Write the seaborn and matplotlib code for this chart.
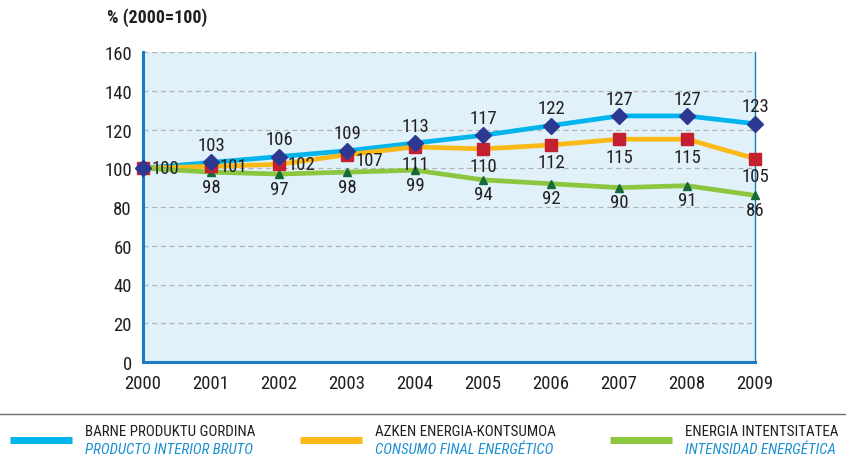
import matplotlib
matplotlib.use("Agg")
import matplotlib.pyplot as plt
from matplotlib.lines import Line2D
from matplotlib import font_manager
import seaborn as sns
import pandas as pd
import numpy as np

years = ["2000", "2001", "2002", "2003", "2004", "2005", "2006", "2007", "2008", "2009"]
pib = [100, 103, 106, 109, 113, 117, 122, 127, 127, 123]
consumo = [100, 101, 102, 107, 111, 110, 112, 115, 115, 105]
intensidad = [100, 98, 97, 98, 99, 94, 92, 90, 91, 86]
legend_eu = ["BARNE PRODUKTU GORDINA", "AZKEN ENERGIA-KONTSUMOA", "ENERGIA INTENTSITATEA"]
legend_es = ["PRODUCTO INTERIOR BRUTO", "CONSUMO FINAL ENERGÉTICO", "INTENSIDAD ENERGÉTICA"]
y_ticks = [0, 20, 40, 60, 80, 100, 120, 140, 160]

sns.set_theme(style="white")
names = {f.name for f in font_manager.fontManager.ttflist}
cond_fams = [n for n in ["Liberation Sans Narrow", "Roboto Condensed", "Open Sans Condensed",
                         "DejaVu Sans Condensed"] if n in names]
FONT = cond_fams + ["DejaVu Sans"]
plt.rcParams["font.family"] = FONT
if not cond_fams:
    plt.rcParams["font.stretch"] = "condensed"

line_cols = ["#00b5ec", "#fbb917", "#8cc63e"]
mark_cols = ["#2b3990", "#c4202f", "#17693a"]
markers = ["D", "s", "^"]
msizes = [8.5, 8, 5.5]
AXIS_BLUE = "#1b7cc3"
TXT = "#231f20"
FS = 13.5

fig = plt.figure(figsize=(8.46, 4.60), dpi=100)
W, H = 846, 460
ax = fig.add_axes([143 / W, 1 - 363 / H, (755 - 143) / W, (363 - 53) / H])
ax.set_facecolor("#e0f1f9")

df = pd.DataFrame({
    "x": list(range(len(years))) * 3,
    "v": pib + consumo + intensidad,
    "s": ["pib"] * 10 + ["con"] * 10 + ["int"] * 10,
})
series = ["pib", "con", "int"]
sns.lineplot(data=df, x="x", y="v", hue="s", hue_order=series,
             palette=line_cols, linewidth=3.4, legend=False, ax=ax, zorder=3)
zs = [6, 5, 4]
for i, s in enumerate(series):
    sub = df[df["s"] == s]
    ax.plot(sub["x"], sub["v"], linestyle="none", marker=markers[i],
            markersize=msizes[i], color=mark_cols[i], zorder=zs[i], clip_on=False)

ax.set_xlim(0, 9)
ax.set_ylim(0, 160)
ax.set_yticks(y_ticks)
ax.set_yticklabels([str(t) for t in y_ticks])
ax.set_xticks(range(10))
ax.set_xticklabels(years)
ax.set_xticks(np.arange(0.5, 9, 1), minor=True)
ax.tick_params(axis="x", which="major", length=0, pad=9, labelsize=FS, labelcolor=TXT)
ax.tick_params(axis="x", which="minor", length=11, width=1.6, color=AXIS_BLUE, direction="out")
ax.tick_params(axis="y", which="major", length=5, width=1.6, color=AXIS_BLUE,
               direction="out", pad=3, labelsize=FS, labelcolor=TXT)
ax.set_xlabel("")
ax.set_ylabel("")
for yv in y_ticks[1:]:
    ax.axhline(yv, color="#b3b3b3", linestyle=(0, (4, 3)), linewidth=0.9, zorder=1)

for side in ["left", "bottom"]:
    ax.spines[side].set_color(AXIS_BLUE)
    ax.spines[side].set_linewidth(2.2)
ax.spines["right"].set_color(AXIS_BLUE)
ax.spines["right"].set_linewidth(1.0)
ax.spines["top"].set_visible(False)

lab_kw = dict(fontsize=FS, color=TXT, zorder=7, clip_on=False)
for i in range(1, 10):
    ax.annotate(str(pib[i]), (i, pib[i]), xytext=(0, 6), textcoords="offset points",
                ha="center", va="bottom", **lab_kw)
for i in range(0, 4):
    dy = -4 if i == 3 else 0
    ax.annotate(str(consumo[i]), (i, consumo[i]), xytext=(6, dy), textcoords="offset points",
                ha="left", va="center", **lab_kw)
for i in range(4, 10):
    ax.annotate(str(consumo[i]), (i, consumo[i]), xytext=(0, -6), textcoords="offset points",
                ha="center", va="top", **lab_kw)
for i in range(1, 10):
    ax.annotate(str(intensidad[i]), (i, intensidad[i]), xytext=(0, -4), textcoords="offset points",
                ha="center", va="top", **lab_kw)

fig.text(107 / W, 1 - 18 / H, "% (2000=100)", fontsize=13, fontweight="bold",
         color=TXT, ha="left", va="center")

fig.add_artist(Line2D([0, 1], [1 - 415 / H, 1 - 415 / H], color="#6d6e71", linewidth=1.0))

lx = [10, 300, 610]
for k in range(3):
    x0 = lx[k]
    fig.add_artist(Line2D([x0 / W, (x0 + 62) / W], [1 - 441 / H, 1 - 441 / H],
                          color=line_cols[k], linewidth=5, solid_capstyle="butt"))
    fig.text((x0 + 75) / W, 1 - 432 / H, legend_eu[k], fontsize=10.8, color=TXT,
             ha="left", va="center")
    fig.text((x0 + 75) / W, 1 - 450 / H, legend_es[k], fontsize=10.8, color="#1b8fd2",
             style="italic", ha="left", va="center")

fig.savefig("out.png", dpi=100)
